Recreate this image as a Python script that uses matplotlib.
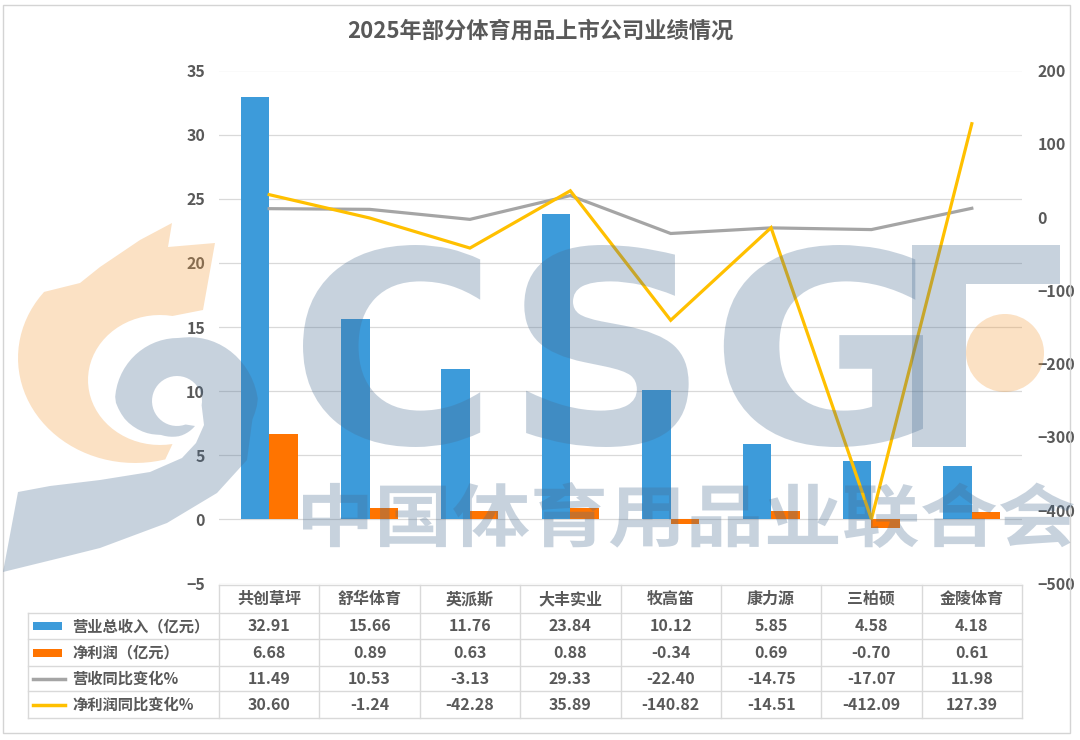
import numpy as np
import matplotlib
matplotlib.use("Agg")
from matplotlib import pyplot as plt
from matplotlib.patches import PathPatch, Polygon, Circle, Rectangle
from matplotlib.textpath import TextPath
from matplotlib.font_manager import FontProperties
from matplotlib.transforms import Affine2D, blended_transform_factory

plt.rcParams['font.family'] = ['Noto Sans CJK SC', 'DejaVu Sans']

title = "2025年部分体育用品上市公司业绩情况"
companies = ["共创草坪", "舒华体育", "英派斯", "大丰实业", "牧高笛", "康力源", "三柏硕", "金陵体育"]
revenue = [32.91, 15.66, 11.76, 23.84, 10.12, 5.85, 4.58, 4.18]
profit = [6.68, 0.89, 0.63, 0.88, -0.34, 0.69, -0.70, 0.61]
revenue_yoy = [11.49, 10.53, -3.13, 29.33, -22.40, -14.75, -17.07, 11.98]
profit_yoy = [30.60, -1.24, -42.28, 35.89, -140.82, -14.51, -412.09, 127.39]
series_names = ["营业总收入（亿元）", "净利润（亿元）", "营收同比变化%", "净利润同比变化%"]

BLUE = "#3D9BDA"
ORANGE = "#FF7400"
GRAY = "#A5A5A5"
YELLOW = "#FFC000"
TXT = "#595959"
GRID = "#D9D9D9"

W, H = 1080, 740
fig = plt.figure(figsize=(W / 100, H / 100), dpi=100)

# plot area in pixels: x 219..1022, y 70.5..583.5 (from top)
px_l, px_r, px_t, px_b = 219, 1022, 70.5, 583.5
ax = fig.add_axes([px_l / W, 1 - px_b / H, (px_r - px_l) / W, (px_b - px_t) / H])
ax2 = ax.twinx()

x = np.arange(len(companies))
bw = 0.284
ax.bar(x - bw / 2, revenue, bw, color=BLUE, zorder=2)
ax.bar(x + bw / 2, profit, bw, color=ORANGE, zorder=2)
ax2.plot(x, revenue_yoy, color=GRAY, lw=2.3, solid_joinstyle='miter', zorder=3)
ax2.plot(x, profit_yoy, color=YELLOW, lw=2.3, solid_joinstyle='miter', zorder=4)

ax.set_xlim(-0.5, len(companies) - 0.5)
ax.set_ylim(-5, 35)
ax.set_yticks(range(-5, 36, 5))
ax2.set_ylim(-500, 200)
ax2.set_yticks(range(-500, 201, 100))
ax.set_xticks([])
for a in (ax, ax2):
    for s in a.spines.values():
        s.set_visible(False)
    a.tick_params(length=0, labelsize=11.5, labelcolor=TXT)
    for lab in a.get_yticklabels():
        lab.set_fontweight('bold')
ax.tick_params(axis='y', pad=10)
ax2.tick_params(axis='y', pad=11)
ax.grid(axis='y', color=GRID, lw=0.9, zorder=0)
ax.set_axisbelow(True)
ax.patch.set_visible(False)
ax2.patch.set_visible(False)

# overlay in pixel coordinates (y from top)
ov = fig.add_axes([0, 0, 1, 1], zorder=10)
ov.set_xlim(0, W)
ov.set_ylim(H, 0)
ov.axis('off')
ov.patch.set_visible(False)

fig.text(0.5, 1 - 31 / H, title, ha='center', va='center', fontsize=16,
         fontweight='bold', color=TXT)

# chart frame
ov.add_patch(Rectangle((3, 5), 1067, 728, fill=False, ec="#D4D4D4", lw=1))

# data table under the plot
tr = blended_transform_factory(ax.transData, ov.transData)
row_edges = [585, 613, 639, 666, 691, 718]
for i, yy in enumerate(row_edges):
    x0 = px_l if i == 0 else 28
    ov.plot([x0, px_r], [yy, yy], color=GRID, lw=1)
ov.plot([28, 28], [613, 718], color=GRID, lw=1)
for k in range(len(companies) + 1):
    ov.plot([k - 0.5, k - 0.5], [585, 718], color=GRID, lw=1, transform=tr)

centers = [(row_edges[j] + row_edges[j + 1]) / 2 for j in range(5)]
for i, name in enumerate(companies):
    ax.text(i, centers[0], name, transform=tr, ha='center', va='center',
            fontsize=11.5, fontweight='bold', color=TXT)
for j, vals in enumerate([revenue, profit, revenue_yoy, profit_yoy]):
    for i, v in enumerate(vals):
        ax.text(i, centers[j + 1], f"{v:.2f}", transform=tr, ha='center', va='center',
                fontsize=11.5, fontweight='bold', color=TXT)
    ov.text(72, centers[j + 1], series_names[j], ha='left', va='center',
            fontsize=11, fontweight='bold', color=TXT)

ov.add_patch(Rectangle((33, centers[1] - 4), 29, 8, color=BLUE, lw=0))
ov.add_patch(Rectangle((33, centers[2] - 4), 29, 8, color=ORANGE, lw=0))
ov.plot([33, 65], [centers[3]] * 2, color=GRAY, lw=2.5)
ov.plot([33, 65], [centers[4]] * 2, color=YELLOW, lw=2.5)

# watermark (logo of the federation), drawn semi-transparent on top
WM_BLUE = "#486C91"
WM_ORANGE = "#F39C3C"
WM_A = 0.3


def fit_text(s, fp, x0, x1, y0, y1, color):
    tp = TextPath((0, 0), s, size=100, prop=fp)
    bb = tp.get_extents()
    t = (Affine2D().translate(-bb.x0, -bb.y0)
         .scale((x1 - x0) / bb.width, -(y1 - y0) / bb.height)
         .translate(x0, y1))
    ov.add_patch(PathPatch(t.transform_path(tp), fc=color, ec='none', alpha=WM_A))


bold = FontProperties(family='DejaVu Sans', weight='bold')
fit_text("CSG", bold, 303, 923, 245, 447, WM_BLUE)
fit_text("Γ", bold, 912, 1060, 245, 447, WM_BLUE)
fit_text("中国体育用品业联合会", FontProperties(family='Noto Sans CJK SC', weight='bold'),
         303, 1074, 482, 548, WM_BLUE)


def ell(cx, cy, rx, ry, a0, a1, n=40):
    a = np.radians(np.linspace(a0, a1, n))
    return list(zip(cx + rx * np.cos(a), cy - ry * np.sin(a)))


orange_swirl = ([(172, 223), (140, 240), (100, 267), (80, 283)]
                + ell(135, 358, 117, 105, 141, 285)
                + ell(160, 380, 72, 65, 280, 80)
                + [(203, 310), (215, 243), (168, 247)])
ov.add_patch(Polygon(orange_swirl, closed=True, fc=WM_ORANGE, ec='none', alpha=WM_A))
ov.add_patch(Circle((1005, 353), 39, fc=WM_ORANGE, ec='none', alpha=WM_A))

phi = np.linspace(-15, 300, 60)
rad = np.interp(phi, [-15, 0, 90, 180, 200, 240, 270, 300], [75, 78, 62, 65, 58, 40, 36, 30])
spiral = list(zip(180 + rad * np.cos(np.radians(phi)), 400 - rad * np.sin(np.radians(phi))))
blue_swirl = ([(3, 572), (60, 558), (100, 548), (167, 523), (217, 493), (247, 460)]
              + spiral
              + ell(177, 401, 25, 25, 290, -10)
              + [(204, 425), (196, 443), (182, 458), (150, 472), (100, 480), (50, 486), (18, 492)])
ov.add_patch(Polygon(blue_swirl, closed=True, fc=WM_BLUE, ec='none', alpha=WM_A))

fig.savefig("out.png", dpi=100, facecolor='white')
